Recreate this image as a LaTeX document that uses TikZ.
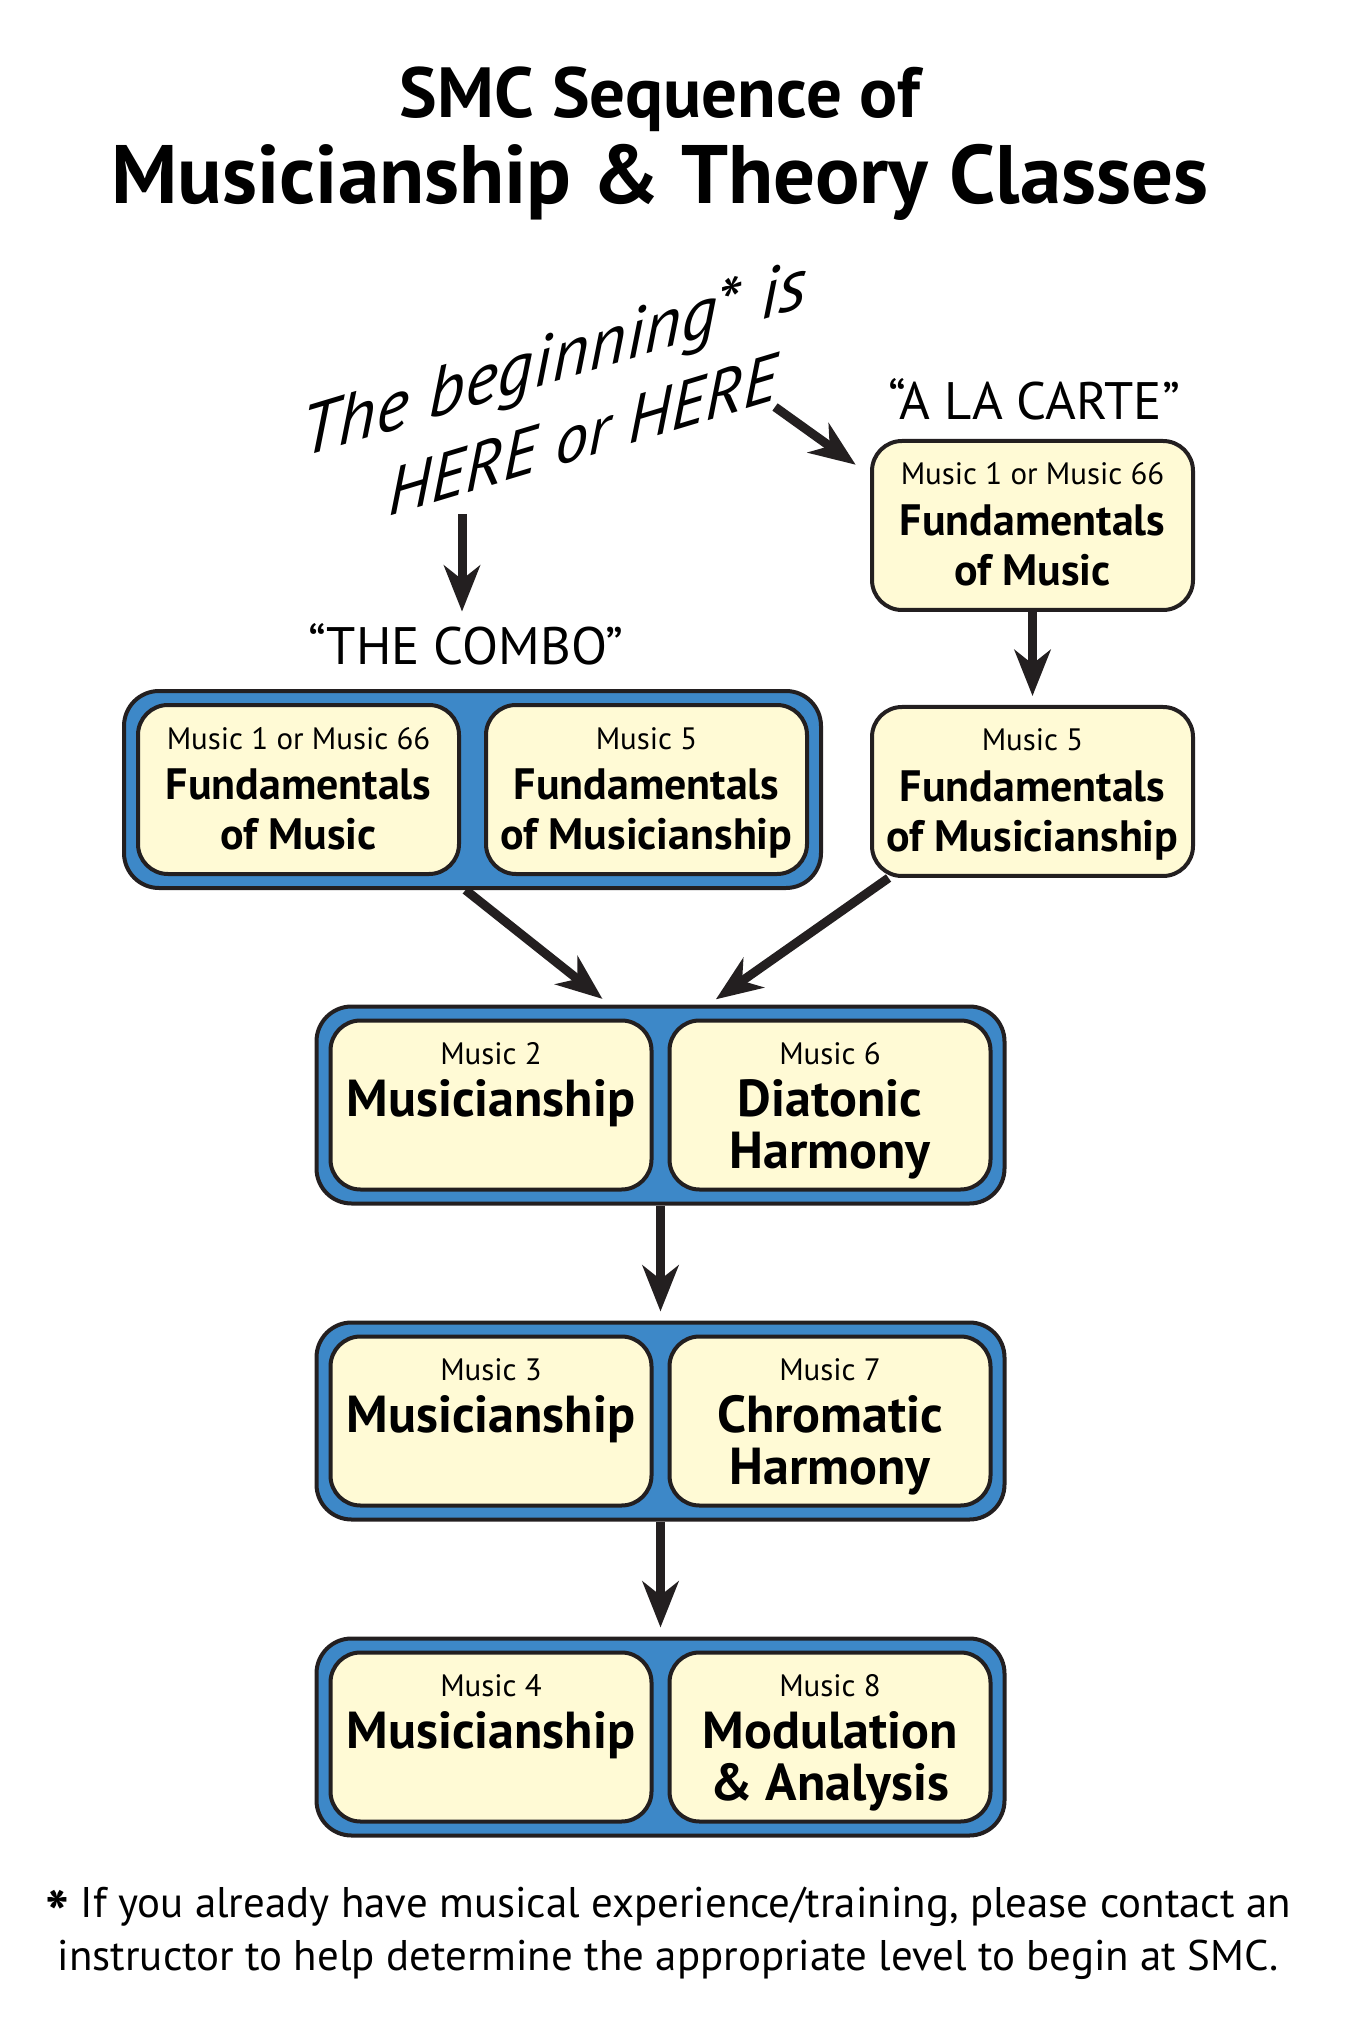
\documentclass[tikz,border=0pt]{standalone}
\usepackage{fontspec}
\setmainfont{PT Sans}
\usepackage{xcolor}
\usetikzlibrary{arrows.meta, positioning, fit, backgrounds}
\definecolor{ink}{HTML}{231F20}
\definecolor{cream}{HTML}{FFFAD5}
\definecolor{combo}{HTML}{3D88C8}
\newcommand{\cnum}[1]{{\normalfont\fontsize{8.8}{14.3}\selectfont #1}}

\begin{document}
\begin{tikzpicture}[
  x=0.1mm, y=-0.1mm, node distance=6mm,
  course/.style={draw=ink, fill=cream, line width=0.4mm, rounded corners=3mm,
    minimum width=32.1mm, text width=31mm, align=flush center, inner sep=0pt,
    text height=4.4mm, text depth=12.5mm, font=\fontsize{12.5}{14.3}\selectfont\bfseries},
  big/.style={course, font=\fontsize{14.8}{14.8}\selectfont\bfseries},
  grp/.style={draw=ink, fill=combo, line width=0.4mm, rounded corners=3.5mm, inner sep=1.2mm},
  ar/.style={-{Stealth[length=4.6mm, width=3.6mm, inset=1.4mm]}, draw=ink, line width=0.9mm, shorten >=0.9mm},
  tag/.style={font=\fontsize{15}{17}\selectfont, anchor=base},
  lean/.style={font=\fontsize{19}{21}\selectfont\itshape, anchor=base, yslant=0.3}
]
\useasboundingbox (0,0) rectangle (1346,2040);

% title
\node[font=\fontsize{20.2}{24}\selectfont\bfseries, anchor=base] (title) at (660,118) {SMC Sequence of};
\node[font=\fontsize{23.6}{28}\selectfont\bfseries, anchor=base] (title2) at (660,204) {Musicianship \& Theory Classes};

% where to start
\node[lean, font=\fontsize{20.2}{21}\selectfont\itshape] (begin) at (554,382) {The beginning* is};
\node[lean] (here) at (583,458) {HERE or HERE};
\node[tag] (combolbl) at (466,665) {“THE COMBO”};
\node[tag] (cartelbl) at (1034,420) {“A LA CARTE”};

% a la carte
\node[course] (fm) at (1032.5,525.5) {\cnum{Music 1 or Music 66}\\Fundamentals\\of Music};
\node[course, below=9.3mm of fm] (fmu) {\cnum{Music 5}\\Fundamentals\\of Musicianship};

% the combo
\node[course] (cfm) at (298.5,789.5) {\cnum{Music 1 or Music 66}\\Fundamentals\\of Music};
\node[course, right=2.3mm of cfm] (cfmu) {\cnum{Music 5}\\Fundamentals\\of Musicianship};

% main sequence
\node[big] (m2) at (491,1105) {\cnum{Music 2}\\Musicianship};
\node[big, right=1.4mm of m2] (m6) {\cnum{Music 6}\\Diatonic\\Harmony};
\node[big, below=14.3mm of m2] (m3) {\cnum{Music 3}\\Musicianship};
\node[big, right=1.4mm of m3] (m7) {\cnum{Music 7}\\Chromatic\\Harmony};
\node[big, below=14.3mm of m3] (m4) {\cnum{Music 4}\\Musicianship};
\node[big, right=1.4mm of m4] (m8) {\cnum{Music 8}\\Modulation\\\& Analysis};

\begin{scope}[on background layer]
\node[grp, fit=(cfm)(cfmu)] (combo) {};
\node[grp, fit=(m2)(m6)] (g2) {};
\node[grp, fit=(m3)(m7)] (g3) {};
\node[grp, fit=(m4)(m8)] (g4) {};
\end{scope}

\coordinate (hereA) at (462,514);
\coordinate (hereB) at (775,407);
\draw[ar, shorten >=0pt] (hereA) -- (hereA |- combolbl.north);
\draw[ar] (hereB) -- ([xshift=-0.7mm, yshift=-3.1mm]fm.north west);
\draw[ar] (fm) -- (fmu);
\draw[ar] ([xshift=-0.7mm]combo.south) -- ([xshift=-5.1mm]g2.north);
\draw[ar] (fmu.211) -- ([xshift=4.8mm]g2.north);
\draw[ar] (g2) -- (g3);
\draw[ar] (g3) -- (g4);

% footnote
\node[font=\fontsize{12.2}{12.8}\selectfont, align=center] (note) at (668,1933)
  {\raisebox{-0.9ex}{\fontsize{18}{12}\selectfont\bfseries *} If you already have musical experience/training, please contact an\\instructor to help determine the appropriate level to begin at SMC.};
\end{tikzpicture}
\end{document}
